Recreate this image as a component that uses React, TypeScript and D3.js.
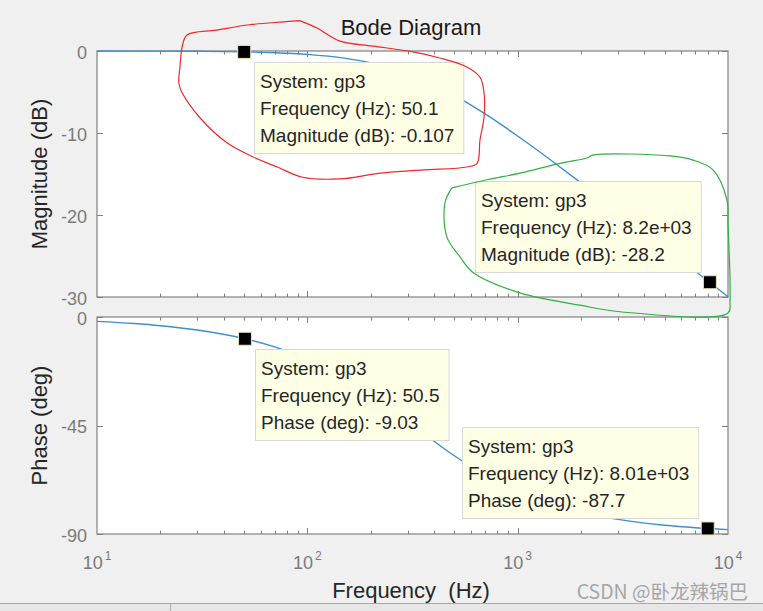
import React, { useEffect, useRef } from 'react';
import * as d3 from 'd3';

// frequency response (Hz, dB, deg)
const freqHz = [10, 15, 20, 30, 50, 70, 100, 150, 200, 300, 400, 500, 700, 1000, 1500, 2000, 3000, 5000, 7000, 10000];
const magDb = [-0.004, -0.01, -0.017, -0.039, -0.107, -0.21, -0.41, -0.87, -1.45, -2.77, -4.12, -5.41, -7.67, -10.37, -13.66, -16.08, -19.54, -23.95, -26.86, -29.96];
const phaseDeg = [-1.8, -2.7, -3.6, -5.39, -8.94, -12.41, -17.46, -25.25, -32.17, -43.33, -51.52, -57.55, -65.57, -72.36, -78.03, -80.97, -83.95, -86.36, -87.4, -88.18];

const magTicks = [0, -10, -20, -30];
const phaseTicks = [0, -45, -90];
const decadeTicks = [10, 100, 1000, 10000];

// data tips
const magTipFreq = [50.1, 8200];
const magTipValue = [-0.107, -28.2];
const magTipFreqText = ['50.1', '8.2e+03'];
const magTipValueText = ['-0.107', '-28.2'];
const phaseTipFreq = [50.5, 8010];
const phaseTipValue = [-9.03, -87.7];
const phaseTipFreqText = ['50.5', '8.01e+03'];
const phaseTipValueText = ['-9.03', '-87.7'];
const tipPlacement = ['below-right', 'above-left'];

// hand drawn loops (freq Hz, dB on the magnitude axes)
const redLoop = [[92, 3.7], [111, 2.8], [143, 1.2], [205, 0.6], [318, -0.1], [427, -0.85], [574, -1.95], [662, -3.2], [692, -5.1], [692, -8.05], [662, -10.85], [641, -13.7], [574, -14.15], [355, -14.5], [222, -14.9], [143, -15.6], [95, -15.4], [72, -14.15], [55, -12.9], [41.5, -11.2], [31, -8.2], [25.4, -5.1], [24.5, -3.9], [24.8, -1.95], [25.4, 0.5], [26.8, 1.95], [37, 2.55], [53, 3.2], [77, 3.55], [92, 3.7]];
const greenLoop = [[487, -16.7], [451, -18.5], [461, -22.7], [532, -25.1], [613, -27.0], [1026, -29.5], [1979, -31.0], [3066, -31.8], [10000, -31.95], [10220, -30.4], [10000, -21.0], [9890, -18.2], [8490, -14.5], [6820, -13.3], [5300, -12.8], [2280, -12.7], [2140, -13.05], [1590, -13.7], [1026, -14.9], [715, -15.7], [487, -16.7]];

const FONT = "'Liberation Sans', Arial, sans-serif";

function drawChart(el: SVGSVGElement) {
  const W = 763, H = 611;
  const svg = d3.select(el);
  svg.selectAll('*').remove();

  const x = d3.scaleLog().domain([10, 10000]).range([97, 728]);
  const yMag = d3.scaleLinear().domain([-30, 0]).range([297, 51]);
  const yPh = d3.scaleLinear().domain([-90, 0]).range([534, 317]);

  svg.append('rect').attr('width', W).attr('height', H).attr('fill', '#f0f0f0');

  // window strip at bottom
  svg.append('rect').attr('x', 0).attr('y', 604).attr('width', W).attr('height', 7).attr('fill', '#e6e6e6');
  svg.append('line').attr('x1', 0).attr('x2', W).attr('y1', 603.5).attr('y2', 603.5).attr('stroke', '#a8a8a8');
  svg.append('line').attr('x1', 170.5).attr('x2', 170.5).attr('y1', 604).attr('y2', 611).attr('stroke', '#b0b0b0');

  const xTicksAll = x.ticks();

  function panel(y: d3.ScaleLinear<number, number>, ticks: number[]) {
    const [y0, y1] = [y.range()[1], y.range()[0]];
    const g = svg.append('g');
    g.append('rect').attr('x', 97).attr('y', y0).attr('width', 631).attr('height', y1 - y0)
      .attr('fill', '#ffffff').attr('stroke', '#808080').attr('stroke-width', 1.2);
    // x ticks top and bottom (inside)
    xTicksAll.forEach(t => {
      const major = Math.abs(Math.log10(t) - Math.round(Math.log10(t))) < 1e-9;
      if (t === 10 || t === 10000) return;
      const len = major ? 6 : 3.5;
      const px = Math.round(x(t)) + 0.5;
      g.append('line').attr('x1', px).attr('x2', px).attr('y1', y1).attr('y2', y1 - len).attr('stroke', '#808080');
      g.append('line').attr('x1', px).attr('x2', px).attr('y1', y0).attr('y2', y0 + len).attr('stroke', '#808080');
    });
    // y ticks left and right + labels
    ticks.forEach(t => {
      const py = Math.round(y(t)) + 0.5;
      g.append('line').attr('x1', 97).attr('x2', 103).attr('y1', py).attr('y2', py).attr('stroke', '#808080');
      g.append('line').attr('x1', 728).attr('x2', 722).attr('y1', py).attr('y2', py).attr('stroke', '#808080');
      g.append('text').attr('x', 87).attr('y', y(t)).attr('dy', '0.42em')
        .attr('text-anchor', 'end').attr('font-family', FONT).attr('font-size', 18)
        .attr('fill', '#7a7a7a').text(t === 0 ? '0' : String(t));
    });
  }

  panel(yMag, magTicks);
  panel(yPh, phaseTicks);

  // curves
  const magLine = d3.line<number>().x((_, i) => x(freqHz[i])).y(d => yMag(d)).curve(d3.curveMonotoneX);
  const phLine = d3.line<number>().x((_, i) => x(freqHz[i])).y(d => yPh(d)).curve(d3.curveMonotoneX);
  svg.append('path').attr('d', magLine(magDb)).attr('fill', 'none').attr('stroke', '#3a8fd2').attr('stroke-width', 1.4);
  svg.append('path').attr('d', phLine(phaseDeg)).attr('fill', 'none').attr('stroke', '#3a8fd2').attr('stroke-width', 1.4);

  // x tick labels 10^n
  decadeTicks.forEach(t => {
    const txt = svg.append('text').attr('x', x(t)).attr('y', 569).attr('text-anchor', 'middle')
      .attr('font-family', FONT).attr('font-size', 18).attr('fill', '#7a7a7a');
    txt.append('tspan').text('10');
    txt.append('tspan').attr('dy', -9).attr('dx', 2).attr('font-size', 12).text(String(Math.round(Math.log10(t))));
  });

  // titles
  svg.append('text').attr('x', 411).attr('y', 35).attr('text-anchor', 'middle')
    .attr('font-family', FONT).attr('font-size', 22).attr('fill', '#1a1a1a').text('Bode Diagram');
  svg.append('text').attr('x', 411).attr('y', 598).attr('text-anchor', 'middle')
    .attr('font-family', FONT).attr('font-size', 22).attr('fill', '#262626')
    .style('white-space', 'pre').text('Frequency  (Hz)');
  svg.append('text').attr('transform', `translate(47,${(yMag.range()[0] + yMag.range()[1]) / 2}) rotate(-90)`)
    .attr('text-anchor', 'middle').attr('font-family', FONT).attr('font-size', 22).attr('fill', '#262626')
    .text('Magnitude (dB)');
  svg.append('text').attr('transform', `translate(47,${(yPh.range()[0] + yPh.range()[1]) / 2}) rotate(-90)`)
    .attr('text-anchor', 'middle').attr('font-family', FONT).attr('font-size', 22).attr('fill', '#262626')
    .text('Phase (deg)');

  // data tips
  function dataTip(mx: number, my: number, lines: string[], placement: string) {
    const g = svg.append('g');
    g.append('rect').attr('x', mx - 6.5).attr('y', my - 6.5).attr('width', 13).attr('height', 13)
      .attr('fill', '#000000').attr('stroke', '#e8e6b8').attr('stroke-width', 1);
    const box = g.append('rect').attr('fill', '#ffffe6').attr('stroke', '#d8d8d8').attr('stroke-width', 1);
    const texts = lines.map(s => g.append('text').attr('font-family', FONT).attr('font-size', 19)
      .attr('fill', '#262626').text(s));
    const w = d3.max(texts, t => (t.node() as SVGTextElement).getComputedTextLength()) || 0;
    const bw = w + 15, bh = 91;
    let left = mx + 10, top = my + 10;
    if (placement === 'above-left') { left = mx - 9 - bw; top = my - 10 - bh; }
    box.attr('x', Math.round(left) + 0.5).attr('y', Math.round(top) + 0.5).attr('width', bw).attr('height', bh);
    texts.forEach((t, i) => t.attr('x', Math.round(left) + 6).attr('y', Math.round(top) + 26 + i * 27));
  }

  magTipFreq.forEach((f, i) => {
    dataTip(x(f), yMag(magTipValue[i]), ['System: gp3', `Frequency (Hz): ${magTipFreqText[i]}`, `Magnitude (dB): ${magTipValueText[i]}`], tipPlacement[i]);
  });
  phaseTipFreq.forEach((f, i) => {
    dataTip(x(f), yPh(phaseTipValue[i]), ['System: gp3', `Frequency (Hz): ${phaseTipFreqText[i]}`, `Phase (deg): ${phaseTipValueText[i]}`], tipPlacement[i]);
  });

  // hand drawn loops
  const loop = d3.line<number[]>().x(d => x(d[0])).y(d => yMag(d[1])).curve(d3.curveCatmullRom.alpha(0.5));
  svg.append('path').attr('d', loop(redLoop)).attr('fill', 'none').attr('stroke', '#f02828').attr('stroke-width', 1.2);
  svg.append('path').attr('d', loop(greenLoop)).attr('fill', 'none').attr('stroke', '#30b040').attr('stroke-width', 1.2);

  // watermark
  svg.append('text').attr('x', 748).attr('y', 599).attr('text-anchor', 'end')
    .attr('font-family', "'Noto Sans CJK SC', sans-serif").attr('font-size', 19.5).attr('fill', '#a6a6a6')
    .text('CSDN @卧龙辣锅巴');
}

export default function App() {
  const ref = useRef<SVGSVGElement>(null);
  useEffect(() => {
    if (ref.current) drawChart(ref.current);
  }, []);
  return (
    <svg ref={ref} width={763} height={611}
      style={{ position: 'absolute', left: 0, top: 0, display: 'block' }} />
  );
}
